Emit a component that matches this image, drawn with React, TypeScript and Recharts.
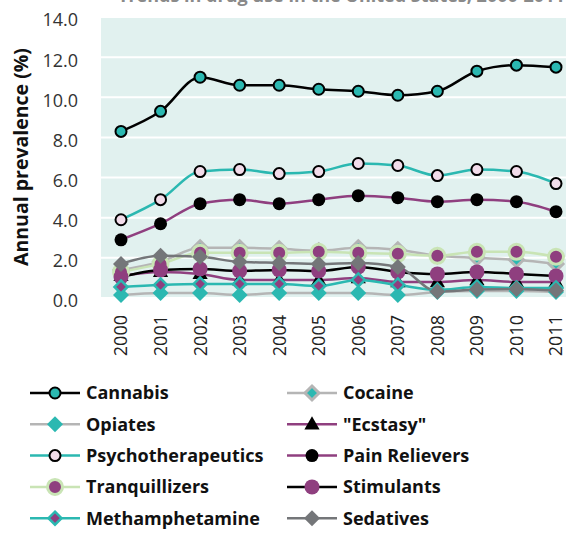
import React from 'react';
import { LineChart, Line, XAxis, YAxis, CartesianGrid } from 'recharts';

const years = ['2000', '2001', '2002', '2003', '2004', '2005', '2006', '2007', '2008', '2009', '2010', '2011'];
const cannabis = [8.3, 9.3, 11.0, 10.6, 10.6, 10.4, 10.3, 10.1, 10.3, 11.3, 11.6, 11.5];
const cocaine = [1.4, 1.8, 2.5, 2.5, 2.45, 2.35, 2.5, 2.4, 2.1, 2.0, 1.9, 1.7];
const opiates = [0.15, 0.25, 0.25, 0.15, 0.25, 0.25, 0.25, 0.15, 0.3, 0.35, 0.35, 0.3];
const ecstasy = [1.1, 1.3, 1.2, 0.9, 0.9, 0.9, 1.0, 0.8, 0.8, 0.9, 0.8, 0.8];
const psycho = [3.9, 4.9, 6.3, 6.4, 6.2, 6.3, 6.7, 6.6, 6.1, 6.4, 6.3, 5.7];
const pain = [2.9, 3.7, 4.7, 4.9, 4.7, 4.9, 5.1, 5.0, 4.8, 4.9, 4.8, 4.3];
const tranq = [1.3, 1.7, 2.25, 2.25, 2.25, 2.3, 2.25, 2.2, 2.1, 2.3, 2.3, 2.05];
const stimulants = [1.05, 1.4, 1.45, 1.35, 1.4, 1.35, 1.55, 1.3, 1.2, 1.3, 1.2, 1.1];
const meth = [0.55, 0.65, 0.7, 0.7, 0.7, 0.6, 0.9, 0.65, 0.4, 0.55, 0.5, 0.5];
const sedatives = [1.7, 2.1, 2.05, 1.8, 1.75, 1.7, 1.75, 1.55, 0.33, 0.42, 0.45, 0.37];
const yTicks = [0, 2, 4, 6, 8, 10, 12, 14];

const data = years.map((y, i) => ({
  year: y,
  cannabis: cannabis[i],
  cocaine: cocaine[i],
  opiates: opiates[i],
  ecstasy: ecstasy[i],
  psycho: psycho[i],
  pain: pain[i],
  tranq: tranq[i],
  stimulants: stimulants[i],
  meth: meth[i],
  sedatives: sedatives[i],
}));

const TEAL = '#2bb8b1';
const PURPLE = '#8f3f7f';
const LGREEN = '#c9e4b5';
const LGREY = '#b5b5b5';
const DGREY = '#747679';
const PINK = '#f2dcea';
const BG = '#e1f1ef';
const FONT = '"Open Sans", "Noto Sans", sans-serif';

type MarkerFn = (cx: number, cy: number, key?: any) => React.ReactElement;

const circle = (r: number, fill: string, stroke: string, sw: number): MarkerFn => (cx, cy, key) => (
  <circle key={key} cx={cx} cy={cy} r={r} fill={fill} stroke={stroke} strokeWidth={sw} />
);
const diamond = (r: number, fill: string, stroke: string, sw: number): MarkerFn => (cx, cy, key) => (
  <polygon
    key={key}
    points={`${cx},${cy - r} ${cx + r},${cy} ${cx},${cy + r} ${cx - r},${cy}`}
    fill={fill}
    stroke={stroke}
    strokeWidth={sw}
  />
);
const triangle = (r: number, fill: string): MarkerFn => (cx, cy, key) => (
  <polygon
    key={key}
    points={`${cx},${cy - r} ${cx + r * 0.95},${cy + r * 0.65} ${cx - r * 0.95},${cy + r * 0.65}`}
    fill={fill}
  />
);

const series = [
  { key: 'cannabis', name: 'Cannabis', line: '#000', marker: circle(5.5, TEAL, '#000', 2) },
  { key: 'cocaine', name: 'Cocaine', line: LGREY, marker: diamond(7, TEAL, LGREY, 3) },
  { key: 'opiates', name: 'Opiates', line: LGREY, marker: diamond(8, TEAL, 'none', 0) },
  { key: 'ecstasy', name: '"Ecstasy"', line: PURPLE, marker: triangle(8, '#000') },
  { key: 'psycho', name: 'Psychotherapeutics', line: TEAL, marker: circle(5.5, PINK, '#000', 2) },
  { key: 'pain', name: 'Pain Relievers', line: PURPLE, marker: circle(6.5, '#000', 'none', 0) },
  { key: 'tranq', name: 'Tranquillizers', line: LGREEN, marker: circle(7.5, PURPLE, LGREEN, 3) },
  { key: 'stimulants', name: 'Stimulants', line: '#000', marker: circle(7.5, PURPLE, 'none', 0) },
  { key: 'meth', name: 'Methamphetamine', line: TEAL, marker: diamond(6.5, PURPLE, TEAL, 2.5) },
  { key: 'sedatives', name: 'Sedatives', line: DGREY, marker: diamond(8, DGREY, 'none', 0) },
];

const makeDot = (m: MarkerFn) => (props: any) => {
  const { cx, cy, index } = props;
  if (cx == null || cy == null) return <g key={index} />;
  return m(cx, cy, index);
};

const XTick = (props: any) => {
  const { x, y, payload } = props;
  return (
    <text
      x={x}
      y={y + 9}
      transform={`rotate(-90, ${x}, ${y + 9})`}
      textAnchor="end"
      dy="0.36em"
      fontSize={18}
      fontFamily={FONT}
      fill="#222"
    >
      {payload.value}
    </text>
  );
};

const YTick = (props: any) => {
  const { x, y, payload } = props;
  return (
    <text x={x - 2} y={y + 3} textAnchor="end" dy="0.36em" fontSize={18} fontFamily={FONT} fill="#333">
      {Number(payload.value).toFixed(1)}
    </text>
  );
};

const renderYLabel = () => (
  <text
    transform="translate(20,157) rotate(-90)"
    textAnchor="middle"
    dominantBaseline="central"
    fontSize={19.5}
    fontWeight="bold"
    fontFamily={FONT}
    fill="#111"
  >
    Annual prevalence (%)
  </text>
);

const LegendItem = ({ s, x, y }: { s: any; x: number; y: number }) => (
  <g>
    <line x1={x} y1={y} x2={x + 50} y2={y} stroke={s.line} strokeWidth={2.5} />
    {s.marker(x + 25, y, undefined)}
    <text x={x + 56} y={y} dy="0.36em" fontSize={18} fontWeight="bold" fontFamily={FONT} fill="#111">
      {s.name}
    </text>
  </g>
);

export default function App() {
  return (
    <div style={{ position: 'absolute', left: 0, top: 0, width: 566, height: 534, background: '#fff', overflow: 'hidden' }}>
      <div
        style={{
          position: 'absolute',
          top: -17,
          left: 118,
          fontFamily: FONT,
          fontSize: 18,
          fontWeight: 'bold',
          color: '#8a8a8a',
          whiteSpace: 'nowrap',
        }}
      >
        Trends in drug use in the United States, 2000-2011
      </div>
      <LineChart
        width={566}
        height={534}
        data={data}
        margin={{ top: 17, right: 0, bottom: 166, left: 0 }}
        style={{ position: 'absolute', left: 0, top: 0 }}
      >
        <CartesianGrid vertical={false} fill={BG} stroke="#fff" strokeWidth={2} />
        <XAxis
          dataKey="year"
          axisLine={false}
          tickLine={false}
          padding={{ left: 20, right: 10 }}
          height={70}
          interval={0}
          tick={<XTick />}
        />
        <YAxis
          domain={[0, 14]}
          ticks={yTicks}
          axisLine={false}
          tickLine={false}
          width={101}
          tickMargin={15}
          tick={<YTick />}
          label={{ value: 'Annual prevalence (%)', content: renderYLabel }}
        />
        {series.map((s) => (
          <Line
            key={s.key}
            dataKey={s.key}
            name={s.name}
            type="monotone"
            stroke={s.line}
            strokeWidth={2.5}
            dot={makeDot(s.marker)}
            activeDot={false}
            isAnimationActive={false}
          />
        ))}
      </LineChart>
      <svg width={566} height={170} style={{ position: 'absolute', left: 0, top: 370 }}>
        {series.map((s, i) => (
          <LegendItem key={s.key} s={s} x={i % 2 === 0 ? 30 : 287} y={23 + Math.floor(i / 2) * 31.3} />
        ))}
      </svg>
    </div>
  );
}
